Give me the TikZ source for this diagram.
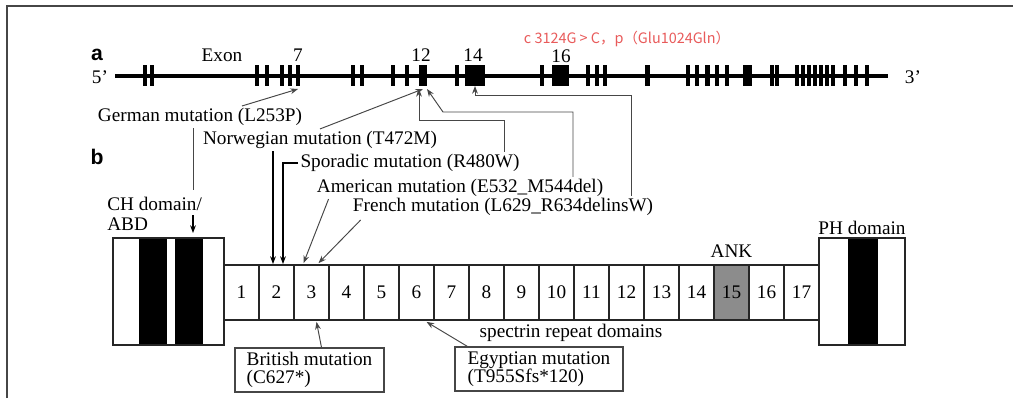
\documentclass[tikz,border=0pt]{standalone}
\usepackage{fontspec}
\setmainfont{Liberation Serif}
\setsansfont{Liberation Sans}
\newfontfamily\cjkfont{Noto Sans CJK SC}
\usetikzlibrary{arrows.meta,positioning,calc}
\definecolor{linegray}{RGB}{70,70,70}
\definecolor{ankgray}{RGB}{140,140,140}
\definecolor{mutred}{RGB}{232,90,90}

\begin{document}
\begin{tikzpicture}[x=0.52pt, y=-0.52pt,
    lbl/.style={font=\fontsize{10}{11}\selectfont, inner sep=1pt},
    panel/.style={font=\sffamily\bfseries\fontsize{11}{12}\selectfont, inner sep=0pt},
    mut/.style={draw=linegray, line width=0.5pt, -{Stealth[length=4pt,width=3pt]}},
    mutb/.style={draw=black, line width=0.9pt, -{Stealth[length=4pt,width=3pt]}},
    rep/.style={draw=black!85, fill=white, line width=0.9pt, minimum width=18.2pt, minimum height=28.6pt, inner sep=0pt, font=\fontsize{10}{11}\selectfont},
    mbox/.style={draw=linegray, line width=0.6pt, align=left, inner sep=0pt, minimum height=22.9pt, font=\fontsize{10}{9.4}\selectfont},
    exon/.style={line width=1.6pt}]
    \useasboundingbox (0,0) rectangle (1013,398);
    % frame
    \draw[linegray, line width=1pt] (7,398) -- (7,6) -- (1013,6);

    % (a) gene with exons
    \node[panel] (pa) at (97,55) {a};
    \node[lbl] (p5) at (100,77) {5'};
    \node[lbl] (p3) at (913,77) {3'};
    \draw[line width=2pt] (115,76) -- (888,76);
    \foreach \x in {145,152,257,267,282,290,298,353,362,393,407,457,542,588,597,605,
                    688,697,717,727,772,777,797,803,809,815,821,827,833,845,856,867}
        \draw[exon] (\x,65) -- (\x,86);
    \foreach \x in {647,707}
        \draw[line width=2.6pt] (\x,65) -- (\x,86);
    \foreach \a/\b in {419/427,465/485,552/569,743/752}
        \fill (\a,65) rectangle (\b,86);
    \node[lbl] (exon) at (222,55) {Exon};
    \node[lbl] (n7) at (298,55) {7};
    \node[lbl] (n12) at (421,55) {12};
    \node[lbl] (n14) at (473,55) {14};
    \node[lbl] (n16) at (561,56) {16};
    \node[font=\cjkfont\fontsize{7.5}{8}\selectfont, text=mutred, inner sep=0pt] (var) at (627,39) {c 3124G > C，p（Glu1024Gln）};
    \coordinate (ex7) at (298,89);
    \coordinate (ex12l) at (419,89);
    \coordinate (ex12m) at (423,89);
    \coordinate (ex12r) at (427,89);
    \coordinate (ex14) at (475,86);

    % mutations
    \node[lbl] (ger) at (200,117) {German mutation (L253P)};
    \node[lbl] (nor) at (320,140) {Norwegian mutation (T472M)};
    \node[lbl] (spo) at (410,163) {Sporadic mutation (R480W)};
    \node[lbl] (ame) at (460,188) {American mutation (E532\_M544del)};
    \node[lbl] (fre) at (503,207) {French mutation (L629\_R634delinsW)};
    \draw[mut] ($(ger.north)+(42,0)$) -- (ex7);
    \draw[mut] (nor.north) -- (ex12m);
    \draw[mut] ($(spo.north)+(94,0)$) |- ($(ex12l)+(0,31)$) -- (ex12l);
    \draw[mut] ($(ame.north)+(113,0)$) |- ($(ex12r)+(16,23)$) -- (ex12r);
    \draw[mut] ($(fre.north)+(128,0)$) |- ($(ex14)+(0,9)$) -- (ex14);

    % (b) protein domains
    \node[panel] (pb) at (97,157) {b};
    \fill (139,238) rectangle (167,345);
    \fill (175,238) rectangle (203,345);
    \draw[draw=black!85, line width=0.9pt] (113,238) rectangle (224,345);
    \node[lbl, align=left, anchor=west, font=\fontsize{10}{10.4}\selectfont] (chlbl) at (105,214) {CH domain/\\ABD};
    \coordinate (gerend) at (193,190);
    \coordinate (chtop) at (193,215);
    \coordinate (chband) at (193,233);
    \draw[linegray, line width=0.5pt] (ger.south -| gerend) -- (gerend);
    \draw[mutb] (chtop) -- (chband);

    \foreach \i in {1,...,14,16,17}
        \node[rep] (r\i) at ({206.5+35*\i},292.5) {\i};
    \node[rep, fill=ankgray] (r15) at (731.5,292.5) {15};
    \node[lbl, above=2pt of r15] (ank) {ANK};
    \node[lbl] (spec) at (571,333) {spectrin repeat domains};

    \fill (848,238) rectangle (878,345);
    \draw[draw=black!85, line width=0.9pt] (819,238) rectangle (905,345);
    \node[lbl] (ph) at (862,228) {PH domain};

    \coordinate (r2a) at (273,264);
    \coordinate (r2b) at (283,264);
    \draw[mutb] (nor.south -| r2a) -- (r2a);
    \draw[mutb] (spo.west) -| (r2b);
    \draw[mut] ($(ame.south west)+(14,0)$) -- ($(r3.north)+(-8,-1)$);
    \draw[mut] ($(fre.south west)+(10,2)$) -- ($(r3.north)+(7,-1)$);

    \node[mbox, minimum width=77.5pt] (brit) at (309.5,370) {British mutation\\(C627*)};
    \node[mbox, minimum width=87.4pt] (egy) at (539,369) {Egyptian mutation\\(T955Sfs*120)};
    \draw[mut] ($(brit.north)+(12,0)$) -- ($(r3.south)+(5,1)$);
    \draw[mut] ($(egy.north west)+(13,0)$) -- ($(r6.south)+(10,1)$);
\end{tikzpicture}
\end{document}
